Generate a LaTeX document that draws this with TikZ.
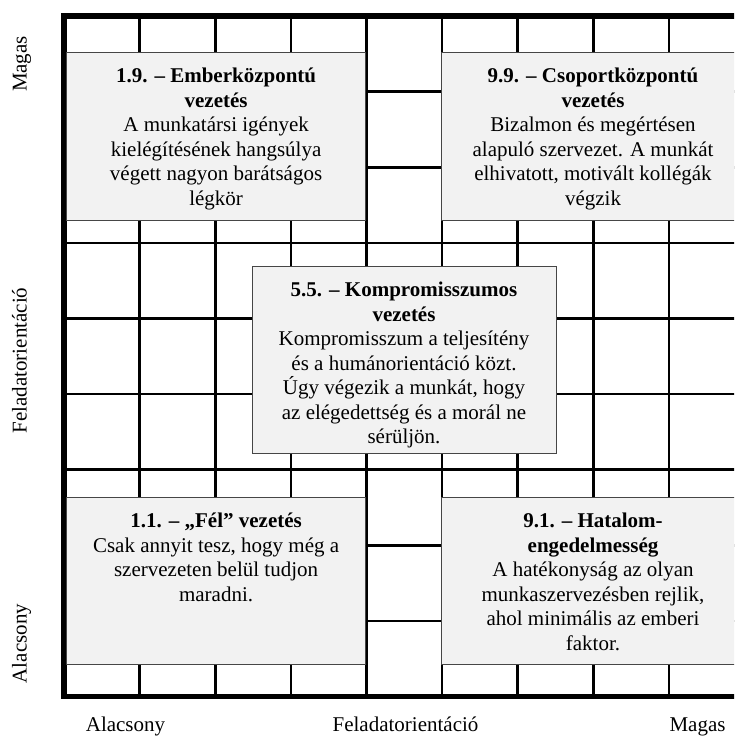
\documentclass[tikz,border=0pt]{standalone}
\usepackage{fontspec}
\setmainfont{Liberation Serif}
\usetikzlibrary{calc}
\definecolor{boxfill}{RGB}{242,242,242}
\definecolor{boxline}{RGB}{70,70,70}
\begin{document}
\begin{tikzpicture}[x=1pt,y=-1pt,
  gridline/.style={line width=2.6pt, black},
  frameline/.style={line width=5.5pt, black},
  panel/.style={draw=boxline, fill=boxfill, line width=0.8pt, anchor=north west,
    inner sep=0pt, outer sep=0pt},
  paneltext/.style={anchor=north, align=center, inner sep=0pt,
    font=\fontsize{21}{24.5}\selectfont},
  axislabel/.style={inner sep=0pt, font=\fontsize{21}{24.5}\selectfont}]
\useasboundingbox (0,0) rectangle (734,736);
\clip (0,0) rectangle (734,736);
\def\cell{75.6}
% 9x9 grid
\foreach \i in {1,...,8} {
  \draw[gridline] ({64+\i*\cell},16) -- ({64+\i*\cell},696.4);
  \draw[gridline] (64,{16+\i*\cell}) -- (744.4,{16+\i*\cell});
}
\draw[frameline] (64,16) rectangle (744.4,696.4);

% panels
\node[panel, minimum width=298.6pt, minimum height=168pt] (p19) at (66.8,52) {};
\node[panel, minimum width=303pt, minimum height=168pt] (p99) at (441.5,52) {};
\node[panel, minimum width=304pt, minimum height=187pt] (p55) at (252,266) {};
\node[panel, minimum width=298.6pt, minimum height=167pt] (p11) at (66.8,497) {};
\node[panel, minimum width=303pt, minimum height=167pt] (p91) at (441.5,497) {};

% panel texts
\node[paneltext] (t19) at ($(p19.north)+(0,13.35)$)
  {\strut\textbf{1.9. – Emberközpontú}\\\textbf{vezetés}\\A munkatársi igények\\kielégítésének hangsúlya\\végett nagyon barátságos\\légkör};
\node[paneltext] (t99) at ($(p99.north)+(0,13.35)$)
  {\strut\textbf{9.9. – Csoportközpontú}\\\textbf{vezetés}\\Bizalmon és megértésen\\alapuló szervezet. A munkát\\elhivatott, motivált kollégák\\végzik};
\node[paneltext] (t55) at ($(p55.north)+(0,13.35)$)
  {\strut\textbf{5.5. – Kompromisszumos}\\\textbf{vezetés}\\Kompromisszum a teljesítény\\és a humánorientáció közt.\\Úgy végezik a munkát, hogy\\az elégedettség és a morál ne\\sérüljön.};
\node[paneltext] (t11) at ($(p11.north)+(0,13.35)$)
  {\strut\textbf{1.1. – „Fél” vezetés}\\Csak annyit tesz, hogy még a\\szervezeten belül tudjon\\maradni.};
\node[paneltext] (t91) at ($(p91.north)+(0,13.35)$)
  {\strut\textbf{9.1. – Hatalom-}\\\textbf{engedelmesség}\\A hatékonyság az olyan\\munkaszervezésben rejlik,\\ahol minimális az emberi\\faktor.};

% axis labels
\node[axislabel, rotate=90, anchor=base] (yhigh) at (26.5,64) {Magas};
\node[axislabel, rotate=90, anchor=base] (ymid) at (26.5,360.5) {Feladatorientáció};
\node[axislabel, rotate=90, anchor=base] (ylow) at (26.5,643.5) {Alacsony};
\node[axislabel, anchor=base] (xlow) at (125.5,731.5) {Alacsony};
\node[axislabel, anchor=base] (xmid) at (405.5,731.5) {Feladatorientáció};
\node[axislabel, anchor=base] (xhigh) at (697.5,731.5) {Magas};
\end{tikzpicture}
\end{document}
